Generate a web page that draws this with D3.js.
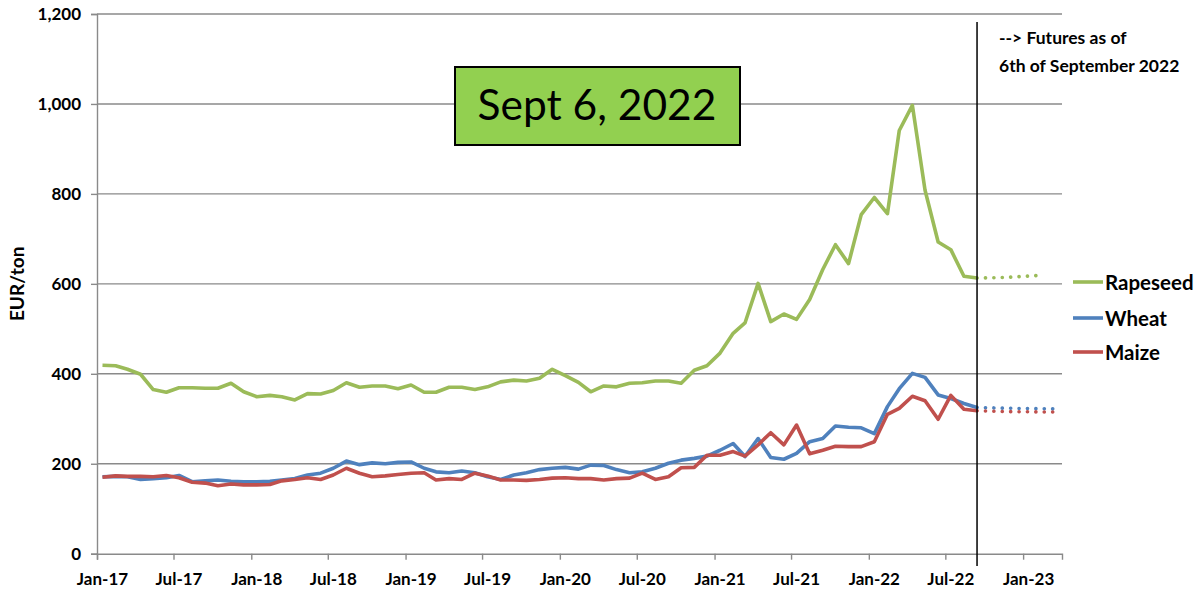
<!DOCTYPE html>
<html>
<head>
<meta charset="utf-8">
<script src="https://cdn.jsdelivr.net/npm/d3@7"></script>
<style>
  html, body { margin: 0; padding: 0; background: #fff; }
  svg { display: block; font-family: Lato, "Open Sans", sans-serif; }
</style>
</head>
<body>
<div id="chart"></div>
<script>
// monthly prices Jan-17 .. Sep-22 (EUR/ton), then futures as of 6 Sep 2022
const firstMonth = new Date(2017, 0, 14);

const rapeseed = [
  419, 418, 410, 399, 365, 359, 369, 369, 368, 368, 379, 360,
  349, 352, 349, 342, 356, 355, 363, 380, 370, 373, 373, 367,
  375, 359, 359, 370, 370, 365, 371, 382, 386, 384, 390, 410,
  396, 381, 360, 373, 371, 379, 380, 384, 384, 379, 408, 418,
  446, 490, 513, 601, 516, 533, 521, 565, 632, 687, 645, 754,
  792, 756, 941, 997, 808, 693, 676, 617, 613
];
const wheat = [
  171, 172, 171, 165, 167, 169, 174, 160, 162, 164, 161, 160,
  160, 161, 164, 167, 175, 179, 190, 206, 198, 202, 200, 203,
  204, 190, 182, 180, 184, 180, 171, 165, 175, 180, 187, 190,
  192, 188, 197, 196, 187, 180, 182, 190, 201, 208, 212, 217,
  230, 245, 216, 256, 214, 210, 223, 249, 256, 284, 281, 280,
  267, 327, 367, 401, 392, 353, 345, 334, 325
];
const maize = [
  170, 173, 172, 172, 171, 174, 169, 159, 157, 151, 155, 153,
  153, 154, 162, 165, 169, 165, 175, 190, 179, 171, 173, 176,
  179, 180, 164, 167, 165, 179, 173, 164, 164, 163, 165, 168,
  169, 167, 167, 164, 167, 168, 179, 165, 171, 191, 192, 219,
  219, 227, 217, 242, 269, 242, 286, 222, 230, 239, 238, 238,
  249, 310, 323, 350, 340, 299, 352, 321, 318
];

// futures: [month offset from Jan-17, value]
const rapeseedFut = [[68, 613], [70, 614], [73, 619]];
const wheatFut = [[68, 325], [71, 323], [74, 322]];
const maizeFut = [[68, 318], [70, 316], [74, 315]];

const seriesNames = ['Rapeseed', 'Wheat', 'Maize'];
const seriesColors = ['#9BBB59', '#4F81BD', '#C0504D'];
const yTicks = [0, 200, 400, 600, 800, 1000, 1200];

const width = 1197, height = 589;
const svg = d3.select('#chart').append('svg')
  .attr('width', width).attr('height', height);

const x = d3.scaleTime()
  .domain([new Date(2017, 0, 1), new Date(2023, 3, 3)])
  .range([97, 1062]);
const y = d3.scaleLinear().domain([0, 1200]).range([553.7, 14]);

const monthDate = i => d3.timeMonth.offset(firstMonth, i);

// gridlines
svg.append('g').selectAll('line')
  .data(yTicks.filter(d => d > 0))
  .join('line')
  .attr('x1', x.range()[0]).attr('x2', x.range()[1])
  .attr('y1', d => y(d)).attr('y2', d => y(d))
  .attr('stroke', '#8a8a8a').attr('stroke-width', 1.4);

// y axis
const yAxis = svg.append('g')
  .attr('transform', `translate(${x.range()[0]},0)`)
  .call(d3.axisLeft(y).tickValues(yTicks).tickSize(6).tickPadding(10).tickFormat(d3.format(',')));
yAxis.select('.domain').attr('stroke', '#8a8a8a').attr('stroke-width', 1.4);
yAxis.selectAll('.tick line').attr('stroke', '#8a8a8a').attr('stroke-width', 1.4);
yAxis.selectAll('text').attr('font-size', 17).attr('font-weight', 'bold')
  .attr('font-family', 'Lato, sans-serif').attr('fill', '#000');

// x axis (labels sit mid-month, like Excel's "between tick marks")
const xAxis = svg.append('g')
  .attr('transform', `translate(0,${y(0)})`)
  .call(d3.axisBottom(x).ticks(d3.timeMonth.every(6)).tickSize(6).tickPadding(13)
    .tickFormat(d3.timeFormat('%b-%y')));
xAxis.select('.domain').attr('stroke', '#8a8a8a').attr('stroke-width', 1.4);
xAxis.selectAll('.tick line').attr('stroke', '#8a8a8a').attr('stroke-width', 1.4);
xAxis.selectAll('text').attr('font-size', 17).attr('font-weight', 'bold')
  .attr('font-family', 'Lato, sans-serif').attr('fill', '#000')
  .attr('dx', 5);

// axis title
svg.append('text')
  .attr('transform', `translate(24,${y(600)}) rotate(-90)`)
  .attr('text-anchor', 'middle')
  .attr('font-size', 19).attr('font-weight', 'bold')
  .text('EUR/ton');

const line = d3.line().x(d => x(d[0])).y(d => y(d[1]));

const actual = [rapeseed, wheat, maize];
const futures = [rapeseedFut, wheatFut, maizeFut];

actual.forEach((vals, k) => {
  svg.append('path')
    .datum(vals.map((v, i) => [monthDate(i), v]))
    .attr('fill', 'none')
    .attr('stroke', seriesColors[k])
    .attr('stroke-width', 3.6)
    .attr('stroke-linejoin', 'round')
    .attr('d', line);
});

futures.forEach((pts, k) => {
  svg.append('path')
    .datum(pts.map(p => [monthDate(p[0]), p[1]]))
    .attr('fill', 'none')
    .attr('stroke', seriesColors[k])
    .attr('stroke-width', 3.6)
    .attr('stroke-linecap', 'round')
    .attr('stroke-dasharray', '0.1 8.3')
    .attr('d', line);
});

// "today" marker
const cut = x(monthDate(68));
svg.append('line')
  .attr('x1', cut).attr('x2', cut)
  .attr('y1', 22).attr('y2', 566)
  .attr('stroke', '#000').attr('stroke-width', 1.5);

svg.append('text')
  .attr('x', 999).attr('y', 44)
  .attr('font-size', 17.5).attr('font-weight', 'bold')
  .text('--> Futures as of');
svg.append('text')
  .attr('x', 999).attr('y', 72)
  .attr('font-size', 17.5).attr('font-weight', 'bold')
  .text('6th of September 2022');

// date box
svg.append('rect')
  .attr('x', 455).attr('y', 67).attr('width', 285).attr('height', 78)
  .attr('fill', '#92D050').attr('stroke', '#000').attr('stroke-width', 2);
svg.append('text')
  .attr('x', 597).attr('y', 120)
  .attr('text-anchor', 'middle')
  .attr('font-size', 42.5)
  .text('Sept 6, 2022');

// legend
const legend = svg.append('g');
const legendY = [282, 318, 352];
seriesNames.forEach((name, k) => {
  legend.append('line')
    .attr('x1', 1073).attr('x2', 1103)
    .attr('y1', legendY[k]).attr('y2', legendY[k])
    .attr('stroke', seriesColors[k]).attr('stroke-width', 3.6);
  legend.append('text')
    .attr('x', 1105).attr('y', legendY[k])
    .attr('dominant-baseline', 'central')
    .attr('font-size', 20.5).attr('font-weight', 'bold')
    .text(name);
});
</script>
</body>
</html>
